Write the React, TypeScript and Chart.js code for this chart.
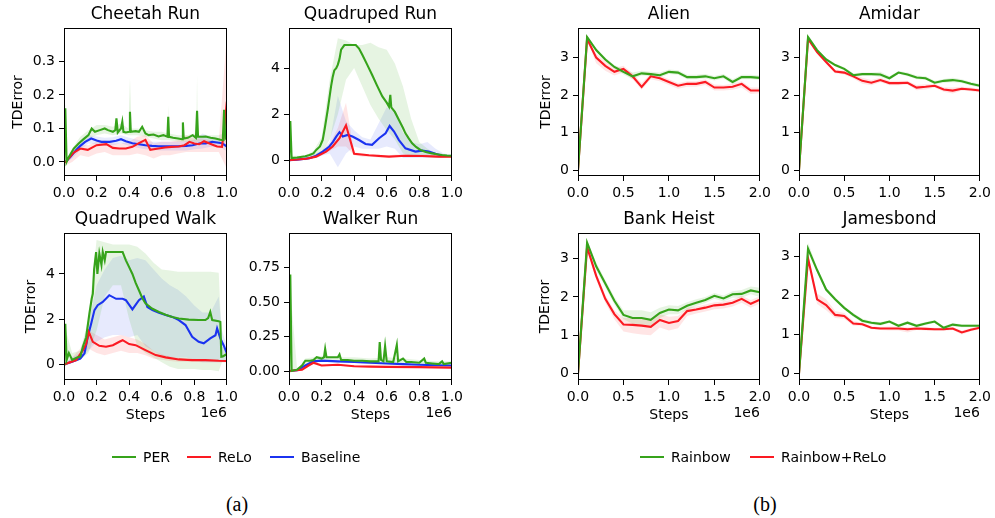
import React, { useEffect, useRef } from "react";
import { Chart, registerables } from "chart.js";

Chart.register(...registerables);

const FONT = "'DejaVu Sans', sans-serif";
const GREEN = "#36a31b";
const RED = "#fb1a22";
const BLUE = "#1b33f0";
const GREEN_FILL = "rgba(60,170,30,0.13)";
const RED_FILL = "rgba(255,40,40,0.12)";
const BLUE_FILL = "rgba(40,60,240,0.11)";

// ---------- tick labels ----------
const dmcXTicks = [0, 0.2, 0.4, 0.6, 0.8, 1.0];
const dmcXLabels = ["0.0", "0.2", "0.4", "0.6", "0.8", "1.0"];
const atariXTicks = [0, 0.5, 1.0, 1.5, 2.0];
const atariXLabels = ["0.0", "0.5", "1.0", "1.5", "2.0"];
const cheetahYTicks = [0, 0.1, 0.2, 0.3];
const cheetahYLabels = ["0.0", "0.1", "0.2", "0.3"];
const quadYTicks = [0, 2, 4];
const quadYLabels = ["0", "2", "4"];
const walkerYTicks = [0, 0.25, 0.5, 0.75];
const walkerYLabels = ["0.00", "0.25", "0.50", "0.75"];
const atariYTicks = [0, 1, 2, 3];
const atariYLabels = ["0", "1", "2", "3"];

// ---------- Cheetah Run ----------
const cheetahPerX = [0, 0.008, 0.016, 0.03, 0.06, 0.09, 0.12, 0.15, 0.17, 0.19, 0.22, 0.25, 0.27, 0.3, 0.315, 0.322, 0.33, 0.35, 0.358, 0.365, 0.38, 0.4, 0.405, 0.41, 0.44, 0.46, 0.48, 0.5, 0.52, 0.55, 0.58, 0.61, 0.635, 0.64, 0.645, 0.67, 0.7, 0.725, 0.73, 0.735, 0.76, 0.79, 0.81, 0.817, 0.823, 0.85, 0.87, 0.9, 0.93, 0.96, 0.975, 0.983, 0.99, 1.0];
const cheetahPerY = [0.0, 0.16, 0.0, 0.015, 0.04, 0.055, 0.068, 0.08, 0.1, 0.09, 0.095, 0.1, 0.095, 0.09, 0.095, 0.13, 0.088, 0.1, 0.12, 0.09, 0.088, 0.09, 0.15, 0.09, 0.092, 0.09, 0.105, 0.085, 0.08, 0.082, 0.076, 0.08, 0.075, 0.135, 0.075, 0.072, 0.07, 0.068, 0.118, 0.07, 0.072, 0.08, 0.072, 0.153, 0.075, 0.075, 0.076, 0.072, 0.07, 0.066, 0.065, 0.156, 0.07, 0.076];
const cheetahBaseX = [0, 0.01, 0.04, 0.075, 0.1, 0.13, 0.167, 0.2, 0.23, 0.28, 0.32, 0.35, 0.38, 0.42, 0.46, 0.5, 0.54, 0.58, 0.62, 0.66, 0.7, 0.75, 0.79, 0.83, 0.87, 0.91, 0.94, 0.97, 1.0];
const cheetahBaseY = [0.0, 0.0, 0.015, 0.036, 0.048, 0.06, 0.07, 0.064, 0.06, 0.06, 0.063, 0.068, 0.062, 0.056, 0.053, 0.05, 0.048, 0.047, 0.047, 0.047, 0.047, 0.048, 0.05, 0.055, 0.055, 0.06, 0.058, 0.056, 0.046];
const cheetahReloX = [0, 0.01, 0.055, 0.1, 0.146, 0.2, 0.26, 0.3, 0.34, 0.38, 0.42, 0.46, 0.5, 0.53, 0.58, 0.62, 0.66, 0.705, 0.74, 0.77, 0.8, 0.83, 0.86, 0.89, 0.92, 0.94, 0.97, 0.985, 1.0];
const cheetahReloY = [0.0, 0.0, 0.026, 0.04, 0.036, 0.05, 0.053, 0.042, 0.04, 0.04, 0.045, 0.056, 0.066, 0.036, 0.04, 0.043, 0.045, 0.046, 0.05, 0.06, 0.055, 0.053, 0.062, 0.056, 0.05, 0.046, 0.045, 0.1, 0.18];
const cheetahPerBandX = [0, 0.008, 0.016, 0.05, 0.1, 0.15, 0.2, 0.25, 0.3, 0.35, 0.395, 0.405, 0.415, 0.45, 0.5, 0.55, 0.6, 0.635, 0.64, 0.645, 0.7, 0.75, 0.8, 0.812, 0.817, 0.822, 0.85, 0.9, 0.95, 1.0];
const cheetahPerHi = [0.17, 0.17, 0.01, 0.04, 0.075, 0.095, 0.11, 0.11, 0.105, 0.115, 0.1, 0.25, 0.1, 0.1, 0.095, 0.09, 0.09, 0.085, 0.17, 0.085, 0.08, 0.08, 0.085, 0.08, 0.26, 0.08, 0.08, 0.08, 0.08, 0.09];
const cheetahPerLo = [0, 0.0, 0.0, 0.02, 0.05, 0.07, 0.08, 0.085, 0.08, 0.085, 0.08, 0.08, 0.08, 0.08, 0.075, 0.07, 0.065, 0.065, 0.065, 0.065, 0.06, 0.06, 0.06, 0.06, 0.06, 0.06, 0.06, 0.06, 0.055, 0.06];
const cheetahBandX = [0, 0.01, 0.05, 0.1, 0.15, 0.2, 0.25, 0.3, 0.35, 0.4, 0.45, 0.5, 0.55, 0.6, 0.65, 0.7, 0.75, 0.8, 0.85, 0.9, 0.95, 1.0];
const cheetahReloHi = [0, 0.005, 0.035, 0.05, 0.05, 0.06, 0.065, 0.055, 0.055, 0.06, 0.075, 0.08, 0.055, 0.06, 0.06, 0.065, 0.08, 0.07, 0.07, 0.065, 0.06, 0.38];
const cheetahReloLo = [0, -0.01, 0.0, 0.02, 0.015, 0.025, 0.03, 0.02, 0.02, 0.02, 0.025, 0.02, 0.01, 0.02, 0.02, 0.025, 0.03, 0.03, 0.03, 0.03, 0.03, -0.02];
const cheetahBaseHi = [0.0, 0.005, 0.03, 0.06, 0.08, 0.076, 0.072, 0.074, 0.08, 0.072, 0.066, 0.062, 0.06, 0.06, 0.06, 0.06, 0.062, 0.066, 0.085, 0.075, 0.07, 0.06];
const cheetahBaseLo = [0.0, -0.005, 0.01, 0.036, 0.055, 0.052, 0.048, 0.05, 0.056, 0.048, 0.042, 0.038, 0.036, 0.034, 0.034, 0.034, 0.034, 0.038, 0.04, 0.045, 0.046, 0.032];

// ---------- Quadruped Run ----------
const qrunPerX = [0, 0.008, 0.016, 0.05, 0.1, 0.126, 0.15, 0.167, 0.19, 0.207, 0.22, 0.238, 0.248, 0.258, 0.268, 0.278, 0.29, 0.3, 0.31, 0.32, 0.33, 0.34, 0.36, 0.38, 0.41, 0.43, 0.45, 0.48, 0.51, 0.54, 0.573, 0.6, 0.614, 0.622, 0.628, 0.65, 0.675, 0.7, 0.715, 0.735, 0.756, 0.78, 0.807, 0.84, 0.878, 0.91, 0.94, 0.97, 1.0];
const qrunPerY = [0.0, 1.7, 0.1, 0.12, 0.18, 0.23, 0.3, 0.45, 0.6, 0.88, 1.4, 2.2, 2.7, 3.2, 3.6, 3.9, 4.0, 4.15, 4.4, 4.8, 4.9, 5.0, 5.0, 5.0, 5.0, 4.85, 4.58, 4.15, 3.71, 3.25, 2.77, 2.5, 2.33, 2.84, 2.3, 2.1, 1.75, 1.4, 1.17, 0.95, 0.74, 0.58, 0.45, 0.36, 0.3, 0.26, 0.23, 0.21, 0.2];
const qrunBaseX = [0, 0.05, 0.126, 0.167, 0.207, 0.248, 0.27, 0.29, 0.31, 0.33, 0.36, 0.39, 0.43, 0.47, 0.51, 0.553, 0.593, 0.618, 0.645, 0.675, 0.715, 0.776, 0.817, 0.858, 0.9, 0.94, 1.0];
const qrunBaseY = [0, 0.03, 0.09, 0.2, 0.38, 0.6, 0.8, 1.03, 1.22, 1.03, 1.1, 1.03, 0.88, 0.71, 0.67, 0.96, 1.17, 1.49, 1.25, 0.88, 0.52, 0.38, 0.42, 0.38, 0.28, 0.2, 0.19];
const qrunReloX = [0, 0.106, 0.167, 0.228, 0.268, 0.31, 0.35, 0.4, 0.49, 0.614, 0.715, 0.817, 0.92, 1.0];
const qrunReloY = [0, 0.07, 0.16, 0.38, 0.6, 0.96, 1.52, 0.28, 0.22, 0.16, 0.2, 0.19, 0.16, 0.16];
const qrunBandX = [0, 0.1, 0.15, 0.2, 0.25, 0.3, 0.35, 0.4, 0.45, 0.5, 0.55, 0.6, 0.65, 0.7, 0.75, 0.8, 0.85, 0.9, 0.95, 1.0];
const qrunPerHi = [0.2, 0.2, 0.4, 1.0, 3.5, 5.3, 5.2, 5.0, 5.0, 5.1, 4.9, 4.8, 4.2, 3.2, 1.8, 0.8, 0.5, 0.3, 0.25, 0.2];
const qrunPerLo = [0, 0.05, 0.1, 0.3, 0.9, 2.0, 3.5, 4.0, 3.2, 2.4, 1.8, 1.3, 0.9, 0.3, 0.2, 0.15, 0.15, 0.1, 0.1, 0.1];
const qrunBaseHi = [0, 0.15, 0.25, 0.4, 0.8, 2.8, 1.7, 1.3, 1.0, 0.9, 1.6, 2.3, 2.1, 1.2, 0.8, 0.7, 0.8, 0.5, 0.3, 0.25];
const qrunBaseLo = [0, 0.0, 0.1, 0.2, 0.3, -0.3, 0.3, 0.6, 0.5, 0.5, 0.5, 0.6, 0.5, 0.1, 0.1, 0.1, 0.1, 0.1, 0.1, 0.15];
const qrunReloHi = [0, 0.1, 0.2, 0.4, 0.7, 1.4, 2.5, 0.35, 0.3, 0.25, 0.25, 0.2, 0.25, 0.25, 0.25, 0.25, 0.25, 0.2, 0.2, 0.2];
const qrunReloLo = [0, 0.05, 0.1, 0.3, 0.4, 0.6, 0.6, 0.22, 0.15, 0.15, 0.12, 0.12, 0.15, 0.15, 0.15, 0.15, 0.13, 0.12, 0.12, 0.12];

// ---------- Quadruped Walk ----------
const qwalkPerX = [0, 0.008, 0.016, 0.03, 0.05, 0.08, 0.1, 0.116, 0.136, 0.156, 0.17, 0.177, 0.185, 0.197, 0.205, 0.217, 0.23, 0.238, 0.25, 0.258, 0.3, 0.36, 0.38, 0.4, 0.42, 0.44, 0.46, 0.48, 0.5, 0.54, 0.583, 0.624, 0.665, 0.705, 0.766, 0.827, 0.868, 0.885, 0.898, 0.91, 0.95, 0.96, 0.966, 0.975, 1.0];
const qwalkPerY = [0, 1.8, 0.19, 0.5, 0.2, 0.3, 0.34, 0.78, 1.2, 2.25, 2.9, 3.13, 4.2, 4.97, 4.0, 4.9, 4.4, 4.97, 4.6, 4.97, 4.97, 4.97, 4.6, 4.3, 4.0, 3.6, 3.28, 2.95, 2.7, 2.47, 2.32, 2.2, 2.1, 2.03, 1.98, 1.96, 1.96, 2.05, 2.32, 1.96, 1.91, 1.88, 0.34, 0.35, 0.46];
const qwalkBaseX = [0, 0.05, 0.1, 0.126, 0.146, 0.167, 0.187, 0.207, 0.238, 0.278, 0.32, 0.36, 0.38, 0.42, 0.46, 0.49, 0.512, 0.543, 0.583, 0.624, 0.665, 0.705, 0.746, 0.787, 0.827, 0.858, 0.898, 0.93, 0.94, 0.96, 0.98, 1.0];
const qwalkBaseY = [0, 0.12, 0.26, 0.49, 1.22, 1.81, 2.4, 2.62, 2.76, 3.06, 2.9, 2.9, 2.84, 2.43, 2.84, 3.0, 2.54, 2.4, 2.28, 2.18, 2.1, 1.96, 1.74, 1.22, 1.0, 0.93, 1.15, 1.29, 1.59, 1.15, 0.85, 0.49];
const qwalkReloX = [0, 0.075, 0.116, 0.136, 0.152, 0.177, 0.217, 0.258, 0.3, 0.34, 0.36, 0.4, 0.44, 0.5, 0.563, 0.624, 0.705, 0.787, 0.868, 0.95, 1.0];
const qwalkReloY = [0, 0.19, 0.63, 0.9, 1.44, 1.0, 0.82, 0.78, 0.85, 1.0, 1.07, 0.9, 0.85, 0.63, 0.41, 0.31, 0.22, 0.19, 0.19, 0.16, 0.15];
const qwalkBandX = [0, 0.05, 0.1, 0.15, 0.2, 0.25, 0.3, 0.35, 0.4, 0.45, 0.5, 0.55, 0.6, 0.65, 0.7, 0.75, 0.8, 0.85, 0.9, 0.95, 0.97, 1.0];
const qwalkPerHi = [1.8, 0.5, 0.6, 2.0, 5.5, 5.4, 5.3, 5.3, 5.3, 5.2, 4.9, 4.5, 4.2, 4.15, 4.1, 4.1, 4.1, 4.1, 4.1, 4.05, 0.8, 0.6];
const qwalkPerLo = [0, 0.1, 0.2, 0.5, 1.5, 3.0, 3.5, 3.5, 2.0, 0.8, 0.5, 0.3, 0.1, -0.1, -0.2, -0.2, -0.2, -0.25, -0.25, -0.3, 0.1, 0.1];
const qwalkBaseHi = [0, 0.3, 0.5, 1.8, 3.5, 4.2, 4.7, 4.8, 4.6, 4.7, 4.6, 4.2, 3.8, 3.5, 3.3, 3.0, 2.6, 2.3, 2.3, 3.0, 1.5, 0.8];
const qwalkBaseLo = [0, 0.1, 0.2, 0.6, 1.0, 1.2, 1.3, 1.3, 1.2, 1.3, 0.8, 0.6, 0.4, 0.3, 0.3, 0.3, 0.2, 0.1, 0.1, 0.1, 0.1, 0.2];
const qwalkReloHi = [0, 0.3, 0.7, 1.5, 1.3, 1.1, 1.2, 1.3, 1.2, 1.1, 0.9, 0.6, 0.45, 0.35, 0.3, 0.25, 0.25, 0.22, 0.22, 0.2, 0.2, 0.2];
const qwalkReloLo = [0, 0.1, 0.3, 0.7, 0.5, 0.4, 0.5, 0.6, 0.5, 0.5, 0.4, 0.25, 0.2, 0.15, 0.12, 0.12, 0.12, 0.1, 0.1, 0.1, 0.1, 0.1];

// ---------- Walker Run ----------
const walkerPerX = [0, 0.008, 0.016, 0.05, 0.08, 0.1, 0.13, 0.15, 0.17, 0.2, 0.215, 0.222, 0.23, 0.26, 0.28, 0.3, 0.31, 0.32, 0.36, 0.4, 0.45, 0.5, 0.55, 0.557, 0.565, 0.58, 0.59, 0.6, 0.64, 0.662, 0.67, 0.7, 0.72, 0.75, 0.8, 0.83, 0.84, 0.88, 0.92, 0.94, 0.95, 1.0];
const walkerPerY = [0, 0.7, 0.0, 0.01, 0.04, 0.075, 0.075, 0.08, 0.1, 0.09, 0.1, 0.16, 0.1, 0.1, 0.1, 0.1, 0.12, 0.08, 0.08, 0.075, 0.075, 0.07, 0.07, 0.21, 0.08, 0.07, 0.18, 0.07, 0.065, 0.19, 0.07, 0.09, 0.065, 0.065, 0.06, 0.09, 0.06, 0.055, 0.05, 0.07, 0.05, 0.06];
const walkerBaseX = [0, 0.05, 0.1, 0.15, 0.2, 0.3, 0.4, 0.5, 0.6, 0.7, 0.8, 0.9, 1.0];
const walkerBaseY = [0, 0.005, 0.04, 0.07, 0.075, 0.07, 0.065, 0.06, 0.055, 0.05, 0.045, 0.042, 0.04];
const walkerReloX = [0, 0.08, 0.12, 0.15, 0.2, 0.3, 0.4, 0.5, 0.6, 0.8, 1.0];
const walkerReloY = [0, 0.01, 0.04, 0.06, 0.04, 0.045, 0.035, 0.032, 0.03, 0.028, 0.025];
const walkerBandX = [0, 0.05, 0.1, 0.15, 0.2, 0.3, 0.4, 0.5, 0.6, 0.7, 0.8, 0.9, 1.0];
const walkerPerHi = [0.7, 0.01, 0.09, 0.1, 0.11, 0.1, 0.1, 0.09, 0.1, 0.09, 0.08, 0.07, 0.07];
const walkerPerLo = [0, 0, 0.05, 0.06, 0.07, 0.06, 0.06, 0.05, 0.05, 0.05, 0.04, 0.04, 0.04];
const walkerReloHi = [0, 0.005, 0.045, 0.07, 0.05, 0.05, 0.042, 0.038, 0.035, 0.035, 0.033, 0.03, 0.03];
const walkerReloLo = [0, 0, 0.025, 0.05, 0.032, 0.038, 0.03, 0.027, 0.025, 0.023, 0.022, 0.02, 0.02];

// ---------- Atari (steps in 1e6) ----------
const atariSteps = [0, 0.1, 0.2, 0.3, 0.4, 0.5, 0.6, 0.7, 0.8, 0.9, 1.0, 1.1, 1.2, 1.3, 1.4, 1.5, 1.6, 1.7, 1.8, 1.9, 2.0];

const alienRainbow = [0, 3.55, 3.2, 2.95, 2.75, 2.62, 2.5, 2.58, 2.56, 2.53, 2.62, 2.6, 2.48, 2.48, 2.5, 2.45, 2.5, 2.35, 2.48, 2.48, 2.46];
const alienRainbowHi = [0, 3.58, 3.25, 3.0, 2.8, 2.7, 2.6, 2.65, 2.62, 2.6, 2.68, 2.66, 2.54, 2.54, 2.56, 2.51, 2.56, 2.42, 2.54, 2.54, 2.52];
const alienRainbowLo = [0, 3.52, 3.15, 2.9, 2.7, 2.55, 2.42, 2.52, 2.5, 2.47, 2.56, 2.54, 2.42, 2.42, 2.44, 2.39, 2.44, 2.28, 2.42, 2.42, 2.4];
const alienRelo = [0, 3.5, 3.0, 2.78, 2.62, 2.7, 2.5, 2.22, 2.5, 2.45, 2.35, 2.25, 2.3, 2.3, 2.35, 2.2, 2.2, 2.22, 2.3, 2.12, 2.12];
const alienReloHi = [0, 3.55, 3.1, 2.9, 2.72, 2.78, 2.58, 2.32, 2.58, 2.52, 2.42, 2.32, 2.37, 2.37, 2.42, 2.28, 2.27, 2.3, 2.37, 2.2, 2.2];
const alienReloLo = [0, 3.45, 2.85, 2.65, 2.52, 2.6, 2.42, 2.14, 2.42, 2.37, 2.27, 2.17, 2.22, 2.22, 2.27, 2.12, 2.12, 2.14, 2.2, 2.03, 2.05];

const amidarRainbow = [0, 3.55, 3.2, 2.95, 2.8, 2.7, 2.53, 2.56, 2.56, 2.55, 2.45, 2.6, 2.55, 2.47, 2.45, 2.33, 2.38, 2.4, 2.37, 2.3, 2.25];
const amidarRainbowHi = [0, 3.58, 3.24, 2.99, 2.84, 2.74, 2.58, 2.6, 2.6, 2.62, 2.5, 2.64, 2.6, 2.52, 2.5, 2.38, 2.43, 2.46, 2.42, 2.35, 2.3];
const amidarRainbowLo = [0, 3.52, 3.16, 2.91, 2.76, 2.66, 2.48, 2.52, 2.52, 2.48, 2.4, 2.56, 2.5, 2.42, 2.4, 2.28, 2.33, 2.34, 2.32, 2.25, 2.2];
const amidarRelo = [0, 3.5, 3.15, 2.88, 2.63, 2.6, 2.5, 2.38, 2.33, 2.4, 2.32, 2.32, 2.33, 2.2, 2.22, 2.25, 2.15, 2.12, 2.17, 2.15, 2.12];
const amidarReloHi = [0, 3.54, 3.2, 2.93, 2.68, 2.65, 2.56, 2.46, 2.4, 2.46, 2.38, 2.38, 2.38, 2.27, 2.29, 2.3, 2.21, 2.2, 2.22, 2.2, 2.17];
const amidarReloLo = [0, 3.46, 3.1, 2.83, 2.58, 2.55, 2.44, 2.3, 2.26, 2.34, 2.26, 2.26, 2.28, 2.13, 2.15, 2.2, 2.09, 2.04, 2.12, 2.1, 2.07];

const bankRainbow = [0, 3.42, 2.8, 2.35, 1.9, 1.53, 1.45, 1.45, 1.4, 1.58, 1.67, 1.65, 1.77, 1.85, 1.92, 2.03, 1.96, 2.07, 2.08, 2.17, 2.12];
const bankRainbowHi = [0, 3.48, 2.9, 2.45, 2.0, 1.65, 1.65, 1.65, 1.6, 1.72, 1.78, 1.76, 1.86, 1.94, 2.0, 2.1, 2.04, 2.15, 2.18, 2.27, 2.24];
const bankRainbowLo = [0, 3.36, 2.7, 2.25, 1.8, 1.42, 1.3, 1.28, 1.25, 1.45, 1.55, 1.55, 1.66, 1.76, 1.84, 1.95, 1.88, 1.98, 1.98, 2.07, 2.0];
const bankRelo = [0, 3.3, 2.55, 1.95, 1.55, 1.28, 1.27, 1.25, 1.22, 1.4, 1.32, 1.37, 1.63, 1.67, 1.72, 1.78, 1.8, 1.85, 1.95, 1.82, 1.93];
const bankReloHi = [0, 3.38, 2.65, 2.05, 1.65, 1.45, 1.45, 1.45, 1.42, 1.55, 1.48, 1.5, 1.72, 1.75, 1.8, 1.86, 1.88, 1.93, 2.03, 1.92, 2.02];
const bankReloLo = [0, 3.22, 2.45, 1.85, 1.42, 1.1, 1.05, 1.02, 1.0, 1.2, 1.12, 1.18, 1.5, 1.57, 1.62, 1.68, 1.7, 1.75, 1.85, 1.72, 1.83];

const jamesRainbow = [0, 3.2, 2.65, 2.15, 1.9, 1.68, 1.5, 1.35, 1.3, 1.27, 1.33, 1.22, 1.3, 1.22, 1.28, 1.33, 1.17, 1.25, 1.22, 1.22, 1.22];
const jamesRainbowHi = [0, 3.35, 2.72, 2.2, 1.95, 1.72, 1.55, 1.4, 1.34, 1.31, 1.37, 1.26, 1.34, 1.26, 1.32, 1.37, 1.21, 1.29, 1.26, 1.26, 1.26];
const jamesRainbowLo = [0, 3.1, 2.58, 2.1, 1.85, 1.64, 1.45, 1.3, 1.26, 1.23, 1.29, 1.18, 1.26, 1.18, 1.24, 1.29, 1.13, 1.21, 1.18, 1.18, 1.18];
const jamesRelo = [0, 2.95, 1.9, 1.75, 1.5, 1.47, 1.28, 1.26, 1.17, 1.15, 1.15, 1.15, 1.13, 1.15, 1.14, 1.13, 1.13, 1.15, 1.05, 1.12, 1.17];
const jamesReloHi = [0, 3.05, 2.05, 1.9, 1.6, 1.55, 1.34, 1.3, 1.21, 1.19, 1.2, 1.2, 1.18, 1.19, 1.18, 1.17, 1.17, 1.19, 1.1, 1.16, 1.21];
const jamesReloLo = [0, 2.85, 1.78, 1.62, 1.42, 1.4, 1.22, 1.22, 1.13, 1.11, 1.1, 1.1, 1.05, 1.11, 1.1, 1.09, 1.09, 1.11, 1.0, 1.08, 1.13];

// ---------- layout constants ----------
const PAD_L = 60;
const PAD_T = 28;
const PAD_R = 14;
const PAD_B = 50;

type Line = { xs: number[]; ys: number[]; color: string };
type Band = { xs: number[]; lo: number[]; hi: number[]; fill: string };
type Spec = {
  title: string;
  left: number;
  top: number;
  width: number;
  height: number;
  xMax: number;
  xTicks: number[];
  xLabels: string[];
  yMin: number;
  yMax: number;
  yTicks: number[];
  yLabels: string[];
  yTitlePad: number | null;
  showX: boolean;
  lines: Line[];
  bands: Band[];
};

const pts = (xs: number[], ys: number[]) => xs.map((x, i) => ({ x, y: ys[i] }));

const framePlugin = {
  id: "frame",
  afterDraw(chart: any, _args: any, opts: any) {
    const { ctx, chartArea: a } = chart;
    ctx.save();
    ctx.strokeStyle = "#000";
    ctx.lineWidth = 1;
    const l = Math.round(a.left) + 0.5;
    const t = Math.round(a.top) + 0.5;
    const r = Math.round(a.right) - 0.5;
    const b = Math.round(a.bottom) - 0.5;
    ctx.strokeRect(l, t, r - l, b - t);
    if (opts && opts.offsetText) {
      ctx.fillStyle = "#000";
      ctx.font = "14px " + FONT;
      ctx.textAlign = "right";
      ctx.textBaseline = "middle";
      ctx.fillText(opts.offsetText, a.right, a.bottom + 33.5);
    }
    ctx.restore();
  },
};

function buildConfig(spec: Spec): any {
  const datasets: any[] = [];
  spec.lines.forEach((s, i) => {
    datasets.push({
      data: pts(s.xs, s.ys),
      borderColor: s.color,
      borderWidth: 2.1,
      pointRadius: 0,
      fill: false,
      tension: 0,
      order: i,
    });
  });
  spec.bands.forEach((b, i) => {
    const idx = datasets.length;
    datasets.push({
      data: pts(b.xs, b.hi),
      borderColor: "rgba(0,0,0,0)",
      borderWidth: 1,
      pointRadius: 0,
      backgroundColor: b.fill,
      fill: idx + 1,
      tension: 0,
      order: 10 + i,
    });
    datasets.push({
      data: pts(b.xs, b.lo),
      borderColor: "rgba(0,0,0,0)",
      borderWidth: 1,
      pointRadius: 0,
      fill: false,
      tension: 0,
      order: 10 + i,
    });
  });

  const tickFont = { family: FONT, size: 14 };
  const grid = {
    display: true,
    drawOnChartArea: false,
    drawTicks: true,
    tickLength: 5,
    color: "#000",
    lineWidth: 1,
  };

  return {
    type: "line",
    data: { datasets },
    plugins: [framePlugin],
    options: {
      animation: false,
      responsive: true,
      maintainAspectRatio: false,
      events: [],
      layout: { padding: { top: 0, right: PAD_R, left: 0, bottom: 0 } },
      plugins: {
        legend: { display: false },
        tooltip: { enabled: false },
        title: {
          display: true,
          text: spec.title,
          fullSize: false,
          color: "#000",
          font: { family: FONT, size: 17, weight: "normal", lineHeight: 1.2 },
          padding: { top: 4, bottom: 3.6 },
        },
        frame: { offsetText: spec.showX ? "1e6" : null },
      },
      scales: {
        x: {
          type: "linear",
          min: 0,
          max: spec.xMax,
          afterBuildTicks: (s: any) => {
            s.ticks = spec.xTicks.map((v) => ({ value: v }));
          },
          afterFit: (s: any) => {
            s.height = PAD_B;
          },
          ticks: {
            callback: (_v: any, i: number) => spec.xLabels[i],
            font: tickFont,
            color: "#000",
            padding: 4,
            maxRotation: 0,
            minRotation: 0,
            autoSkip: false,
          },
          grid,
          border: { display: false },
          title: {
            display: spec.showX,
            text: "Steps",
            color: "#000",
            font: { family: FONT, size: 14, lineHeight: 1.2 },
            padding: { top: 0, bottom: 6 },
          },
        },
        y: {
          type: "linear",
          min: spec.yMin,
          max: spec.yMax,
          afterBuildTicks: (s: any) => {
            s.ticks = spec.yTicks.map((v) => ({ value: v }));
          },
          afterFit: (s: any) => {
            s.width = PAD_L;
          },
          ticks: {
            callback: (_v: any, i: number) => spec.yLabels[i],
            font: tickFont,
            color: "#000",
            padding: 4,
            autoSkip: false,
          },
          grid,
          border: { display: false },
          title: {
            display: spec.yTitlePad !== null,
            text: "TDError",
            color: "#000",
            font: { family: FONT, size: 14, lineHeight: 1.2 },
            padding: { top: spec.yTitlePad ?? 0, bottom: 0 },
          },
        },
      },
    },
  };
}

function Panel({ spec }: { spec: Spec }) {
  const ref = useRef<HTMLCanvasElement>(null);
  useEffect(() => {
    const cv = ref.current;
    if (!cv) return;
    const chart = new Chart(cv, buildConfig(spec));
    return () => chart.destroy();
  }, [spec]);
  const w = spec.width + PAD_L + PAD_R;
  const h = spec.height + PAD_T + PAD_B;
  return (
    <div
      style={{
        position: "absolute",
        left: spec.left - PAD_L,
        top: spec.top - PAD_T,
        width: w,
        height: h,
      }}
    >
      <canvas ref={ref} />
    </div>
  );
}

const SPECS: Spec[] = [
  {
    title: "Cheetah Run", left: 64, top: 28, width: 164, height: 148,
    xMax: 1, xTicks: dmcXTicks, xLabels: dmcXLabels,
    yMin: -0.042, yMax: 0.4, yTicks: cheetahYTicks, yLabels: cheetahYLabels,
    yTitlePad: 6, showX: false,
    lines: [
      { xs: cheetahPerX, ys: cheetahPerY, color: GREEN },
      { xs: cheetahReloX, ys: cheetahReloY, color: RED },
      { xs: cheetahBaseX, ys: cheetahBaseY, color: BLUE },
    ],
    bands: [
      { xs: cheetahPerBandX, hi: cheetahPerHi, lo: cheetahPerLo, fill: GREEN_FILL },
      { xs: cheetahBandX, hi: cheetahBaseHi, lo: cheetahBaseLo, fill: BLUE_FILL },
      { xs: cheetahBandX, hi: cheetahReloHi, lo: cheetahReloLo, fill: RED_FILL },
    ],
  },
  {
    title: "Quadruped Run", left: 289, top: 28, width: 164, height: 148,
    xMax: 1, xTicks: dmcXTicks, xLabels: dmcXLabels,
    yMin: -0.68, yMax: 5.74, yTicks: quadYTicks, yLabels: quadYLabels,
    yTitlePad: null, showX: false,
    lines: [
      { xs: qrunPerX, ys: qrunPerY, color: GREEN },
      { xs: qrunReloX, ys: qrunReloY, color: RED },
      { xs: qrunBaseX, ys: qrunBaseY, color: BLUE },
    ],
    bands: [
      { xs: qrunBandX, hi: qrunPerHi, lo: qrunPerLo, fill: GREEN_FILL },
      { xs: qrunBandX, hi: qrunBaseHi, lo: qrunBaseLo, fill: BLUE_FILL },
      { xs: qrunBandX, hi: qrunReloHi, lo: qrunReloLo, fill: RED_FILL },
    ],
  },
  {
    title: "Quadruped Walk", left: 64, top: 233, width: 164, height: 147,
    xMax: 1, xTicks: dmcXTicks, xLabels: dmcXLabels,
    yMin: -0.69, yMax: 5.81, yTicks: quadYTicks, yLabels: quadYLabels,
    yTitlePad: 19.3, showX: true,
    lines: [
      { xs: qwalkPerX, ys: qwalkPerY, color: GREEN },
      { xs: qwalkReloX, ys: qwalkReloY, color: RED },
      { xs: qwalkBaseX, ys: qwalkBaseY, color: BLUE },
    ],
    bands: [
      { xs: qwalkBandX, hi: qwalkPerHi, lo: qwalkPerLo, fill: GREEN_FILL },
      { xs: qwalkBandX, hi: qwalkBaseHi, lo: qwalkBaseLo, fill: BLUE_FILL },
      { xs: qwalkBandX, hi: qwalkReloHi, lo: qwalkReloLo, fill: RED_FILL },
    ],
  },
  {
    title: "Walker Run", left: 289, top: 233, width: 164, height: 147,
    xMax: 1, xTicks: dmcXTicks, xLabels: dmcXLabels,
    yMin: -0.065, yMax: 1.0, yTicks: walkerYTicks, yLabels: walkerYLabels,
    yTitlePad: null, showX: true,
    lines: [
      { xs: walkerPerX, ys: walkerPerY, color: GREEN },
      { xs: walkerReloX, ys: walkerReloY, color: RED },
      { xs: walkerBaseX, ys: walkerBaseY, color: BLUE },
    ],
    bands: [
      { xs: walkerBandX, hi: walkerPerHi, lo: walkerPerLo, fill: GREEN_FILL },
      { xs: walkerBandX, hi: walkerReloHi, lo: walkerReloLo, fill: RED_FILL },
    ],
  },
  {
    title: "Alien", left: 578, top: 28, width: 183, height: 148,
    xMax: 2, xTicks: atariXTicks, xLabels: atariXLabels,
    yMin: -0.16, yMax: 3.79, yTicks: atariYTicks, yLabels: atariYLabels,
    yTitlePad: 19.6, showX: false,
    lines: [
      { xs: atariSteps, ys: alienRainbow, color: GREEN },
      { xs: atariSteps, ys: alienRelo, color: RED },
    ],
    bands: [
      { xs: atariSteps, hi: alienRainbowHi, lo: alienRainbowLo, fill: GREEN_FILL },
      { xs: atariSteps, hi: alienReloHi, lo: alienReloLo, fill: RED_FILL },
    ],
  },
  {
    title: "Amidar", left: 799, top: 28, width: 182, height: 148,
    xMax: 2, xTicks: atariXTicks, xLabels: atariXLabels,
    yMin: -0.16, yMax: 3.79, yTicks: atariYTicks, yLabels: atariYLabels,
    yTitlePad: null, showX: false,
    lines: [
      { xs: atariSteps, ys: amidarRainbow, color: GREEN },
      { xs: atariSteps, ys: amidarRelo, color: RED },
    ],
    bands: [
      { xs: atariSteps, hi: amidarRainbowHi, lo: amidarRainbowLo, fill: GREEN_FILL },
      { xs: atariSteps, hi: amidarReloHi, lo: amidarReloLo, fill: RED_FILL },
    ],
  },
  {
    title: "Bank Heist", left: 578, top: 233, width: 183, height: 147,
    xMax: 2, xTicks: atariXTicks, xLabels: atariXLabels,
    yMin: -0.17, yMax: 3.67, yTicks: atariYTicks, yLabels: atariYLabels,
    yTitlePad: 19.1, showX: true,
    lines: [
      { xs: atariSteps, ys: bankRainbow, color: GREEN },
      { xs: atariSteps, ys: bankRelo, color: RED },
    ],
    bands: [
      { xs: atariSteps, hi: bankRainbowHi, lo: bankRainbowLo, fill: GREEN_FILL },
      { xs: atariSteps, hi: bankReloHi, lo: bankReloLo, fill: RED_FILL },
    ],
  },
  {
    title: "Jamesbond", left: 799, top: 233, width: 182, height: 147,
    xMax: 2, xTicks: atariXTicks, xLabels: atariXLabels,
    yMin: -0.17, yMax: 3.6, yTicks: atariYTicks, yLabels: atariYLabels,
    yTitlePad: null, showX: true,
    lines: [
      { xs: atariSteps, ys: jamesRainbow, color: GREEN },
      { xs: atariSteps, ys: jamesRelo, color: RED },
    ],
    bands: [
      { xs: atariSteps, hi: jamesRainbowHi, lo: jamesRainbowLo, fill: GREEN_FILL },
      { xs: atariSteps, hi: jamesReloHi, lo: jamesReloLo, fill: RED_FILL },
    ],
  },
];

const legendA = [
  { label: "PER", color: GREEN, x: 112 },
  { label: "ReLo", color: RED, x: 187 },
  { label: "Baseline", color: BLUE, x: 270 },
];
const legendB = [
  { label: "Rainbow", color: GREEN, x: 640 },
  { label: "Rainbow+ReLo", color: RED, x: 750 },
];

function LegendItem({ label, color, x, y }: { label: string; color: string; x: number; y: number }) {
  return (
    <>
      <div style={{ position: "absolute", left: x, top: y - 1, width: 24, height: 2, background: color }} />
      <div
        style={{
          position: "absolute",
          left: x + 31,
          top: y - 8.5,
          font: "14px " + FONT,
          lineHeight: "17px",
          whiteSpace: "nowrap",
          color: "#000",
        }}
      >
        {label}
      </div>
    </>
  );
}

export default function App() {
  return (
    <div style={{ position: "absolute", left: 0, top: 0, width: 995, height: 518, background: "#fff", overflow: "hidden" }}>
      {SPECS.map((s) => (
        <Panel key={s.title} spec={s} />
      ))}
      {legendA.map((l) => (
        <LegendItem key={l.label} label={l.label} color={l.color} x={l.x} y={457} />
      ))}
      {legendB.map((l) => (
        <LegendItem key={l.label} label={l.label} color={l.color} x={l.x} y={457} />
      ))}
      <div style={{ position: "absolute", left: 187, width: 100, top: 492, textAlign: "center", font: "20px 'Liberation Serif', serif", lineHeight: "24px", color: "#000" }}>
        (a)
      </div>
      <div style={{ position: "absolute", left: 715, width: 100, top: 492, textAlign: "center", font: "20px 'Liberation Serif', serif", lineHeight: "24px", color: "#000" }}>
        (b)
      </div>
    </div>
  );
}
